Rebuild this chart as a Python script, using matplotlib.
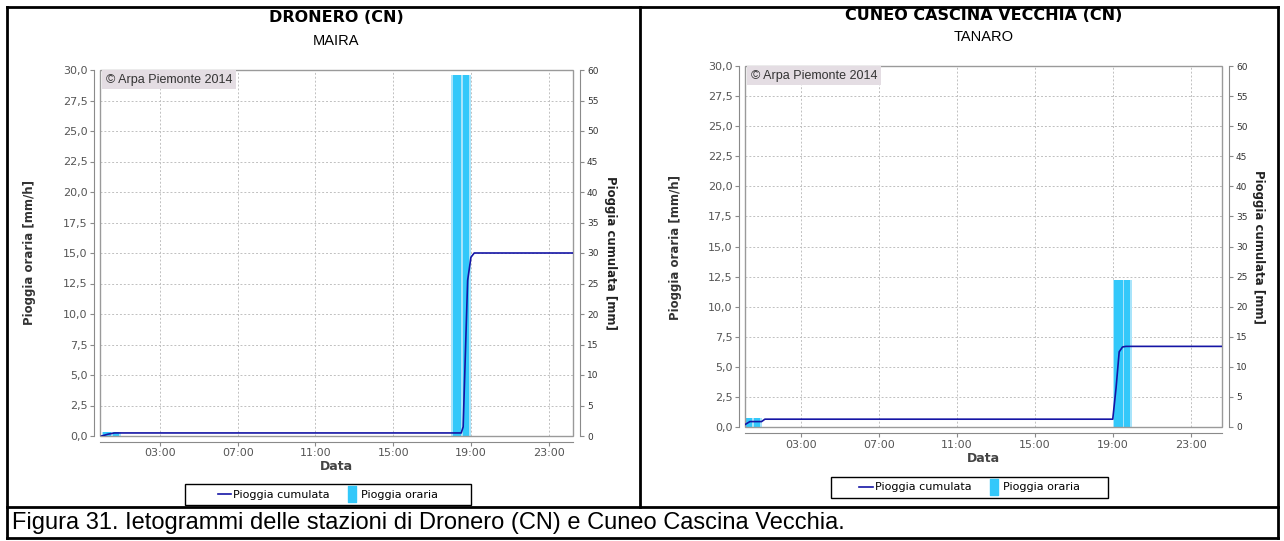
import matplotlib
matplotlib.use('Agg')
import matplotlib.pyplot as plt
from matplotlib.patches import Rectangle
from matplotlib.lines import Line2D
from matplotlib.path import Path
import numpy as np

# ---------------- data ----------------
titles = ["DRONERO (CN)", "CUNEO CASCINA VECCHIA (CN)"]
subtitles = ["MAIRA", "TANARO"]

# hourly rain bars: start hour of each bar, value mm/h
bar_start_dr = [0.0, 18.0]
bar_vals_dr = [0.35, 29.6]
bar_start_cu = [0.0, 19.0]
bar_vals_cu = [0.75, 12.2]

# cumulative rain (mm), time in hours
cum_t_dr = [0.0, 0.17, 0.33, 0.5, 0.67, 18.5, 18.6, 18.7, 18.83, 19.0, 19.17, 24.3]
cum_v_dr = [0.0, 0.15, 0.3, 0.4, 0.5, 0.5, 1.5, 12.0, 25.5, 29.3, 30.0, 30.0]
cum_t_cu = [0.1, 0.4, 1.0, 1.17, 19.0, 19.17, 19.33, 19.5, 19.67, 24.7]
cum_v_cu = [0.3, 0.9, 0.9, 1.3, 1.3, 6.5, 12.5, 13.3, 13.4, 13.4]

x_tick_hours = [3, 7, 11, 15, 19, 23]
x_tick_labels = ["03:00", "07:00", "11:00", "15:00", "19:00", "23:00"]
y_left_ticks = [0, 2.5, 5, 7.5, 10, 12.5, 15, 17.5, 20, 22.5, 25, 27.5, 30]
y_left_labels = ["0,0", "2,5", "5,0", "7,5", "10,0", "12,5", "15,0", "17,5",
                 "20,0", "22,5", "25,0", "27,5", "30,0"]
y_right_ticks = [0, 5, 10, 15, 20, 25, 30, 35, 40, 45, 50, 55, 60]
y_right_labels = [str(v) for v in y_right_ticks]

caption = "Figura 31. Ietogrammi delle stazioni di Dronero (CN) e Cuneo Cascina Vecchia."

# ---------------- style ----------------
MAIN = '#33c8fa'
LIGHT = '#a8e4fb'
LINE = '#1515a5'
GRID = '#c0c0c0'
AXC = '#8a8a8a'
TXT = '#555555'

W, H = 1284, 541
fig = plt.figure(figsize=(W / 100, H / 100), dpi=100)
fig.patch.set_facecolor('white')


def fx(x):
    return x / W


def fy(y):
    return 1 - y / H


def add_ax(x0, y0, x1, y1):
    return fig.add_axes([fx(x0), fy(y1), (x1 - x0) / W, (y1 - y0) / H])


bar_marker = Path([(-0.3, -0.6), (0.3, -0.6), (0.3, 0.6), (-0.3, 0.6), (-0.3, -0.6)],
                  [Path.MOVETO, Path.LINETO, Path.LINETO, Path.LINETO, Path.CLOSEPOLY])


def panel(box, xlim, bstart, bvals, ct, cv, title, sub, tpos, spos, ylx, yrx, ylab_y,
          xlab_y, leg_box):
    x0, y0, x1, y1 = box
    ax = add_ax(x0, y0, x1, y1)
    ax2 = ax.twinx()
    bs = np.array(bstart)
    ax.bar(bs, bvals, width=1.0, align='edge', color=LIGHT, linewidth=0, zorder=2)
    ax.bar(bs + 0.08, bvals, width=0.42, align='edge', color=MAIN, linewidth=0, zorder=3)
    ax.bar(bs + 0.6, bvals, width=0.3, align='edge', color=MAIN, linewidth=0, zorder=3)
    ax2.plot(ct, cv, color=LINE, lw=1.2, zorder=5)

    ax.set_xlim(*xlim)
    ax.set_ylim(0, 30)
    ax2.set_ylim(0, 60)
    ax.set_xticks(x_tick_hours)
    ax.set_xticklabels(x_tick_labels)
    ax.set_yticks(y_left_ticks)
    ax.set_yticklabels(y_left_labels)
    ax2.set_yticks(y_right_ticks)
    ax2.set_yticklabels(y_right_labels)

    ax.grid(True, linestyle=(0, (2, 2)), color=GRID, lw=0.7, zorder=1)
    ax.set_axisbelow(True)
    for s in ['top', 'right']:
        ax.spines[s].set_visible(False)
    for s in ['top', 'left', 'bottom']:
        ax2.spines[s].set_visible(False)
    for s in ['left', 'bottom']:
        ax.spines[s].set_position(('outward', 4))
        ax.spines[s].set_color(AXC)
    ax2.spines['right'].set_position(('outward', 5))
    ax2.spines['right'].set_color(AXC)
    ax.tick_params(axis='both', direction='out', length=3, color=AXC,
                   labelcolor=TXT, labelsize=8, pad=2)
    ax2.tick_params(axis='y', direction='out', length=3, color=AXC,
                    labelcolor='#333333', labelsize=6.5, pad=2)
    ax.add_patch(Rectangle((0, 0), 1, 1, transform=ax.transAxes, fill=False,
                           edgecolor='#9a9a9a', lw=1.0, clip_on=False, zorder=6))
    ax2.text(0.012, 0.99, "\u00a9 Arpa Piemonte 2014", transform=ax.transAxes,
             ha='left', va='top', fontsize=9, family='Liberation Sans', color='#333333',
             bbox=dict(boxstyle='square,pad=0.3', facecolor='#e4dde3', edgecolor='none'),
             zorder=7)

    cx = (x0 + x1) / 2
    fig.text(fx(cx), fy(tpos), title, ha='center', va='center', fontsize=11.5,
             fontweight='bold', family='DejaVu Sans')
    fig.text(fx(cx), fy(spos), sub, ha='center', va='center', fontsize=10.5,
             family='Liberation Sans')
    fig.text(fx(ylx), fy(ylab_y), "Pioggia oraria [mm/h]", rotation=90, ha='center',
             va='center', fontsize=8.5, fontweight='bold', color='#333333')
    fig.text(fx(yrx), fy(ylab_y), "Pioggia cumulata [mm]", rotation=-90, ha='center',
             va='center', fontsize=8.5, fontweight='bold', color='#222222')
    fig.text(fx(cx), fy(xlab_y), "Data", ha='center', va='center', fontsize=9,
             fontweight='bold', color='#444444')

    lx0, ly0, lx1, ly1 = leg_box
    fig.add_artist(Rectangle((fx(lx0), fy(ly1)), (lx1 - lx0) / W, (ly1 - ly0) / H,
                             transform=fig.transFigure, fill=False, edgecolor='black',
                             lw=1.0))
    handles = [Line2D([], [], color=LINE, lw=1.2),
               Line2D([], [], color=MAIN, marker=bar_marker, markersize=11, ls='none')]
    fig.legend(handles, ["Pioggia cumulata", "Pioggia oraria"], ncol=2,
               loc='center', bbox_to_anchor=(fx((lx0 + lx1) / 2), fy((ly0 + ly1) / 2)),
               frameon=False, fontsize=8, handlelength=1.2, handletextpad=0.2,
               columnspacing=1.4, borderpad=0.1)
    return ax, ax2


panel((100, 70, 573, 436), (-0.08, 24.25), bar_start_dr, bar_vals_dr, cum_t_dr, cum_v_dr,
      titles[0], subtitles[0], 17, 41, 30, 611, 253, 467, (185, 484, 471, 505))
panel((745, 66, 1222, 427), (0.15, 24.6), bar_start_cu, bar_vals_cu, cum_t_cu, cum_v_cu,
      titles[1], subtitles[1], 15, 37, 676, 1258, 247, 458, (831, 477, 1108, 498))

# table frame
def fline(xa, ya, xb, yb, lw=2.0):
    fig.add_artist(Line2D([fx(xa), fx(xb)], [fy(ya), fy(yb)], transform=fig.transFigure,
                          color='black', lw=lw))

fline(7, 7, 1278, 7)
fline(7, 538, 1278, 538)
fline(7, 7, 7, 538)
fline(1278, 7, 1278, 538)
fline(640, 7, 640, 507)
fline(7, 507, 1278, 507)

fig.text(fx(12), fy(523), caption, ha='left', va='center', fontsize=17,
         family='Liberation Sans')

fig.savefig('out.png', dpi=100)
